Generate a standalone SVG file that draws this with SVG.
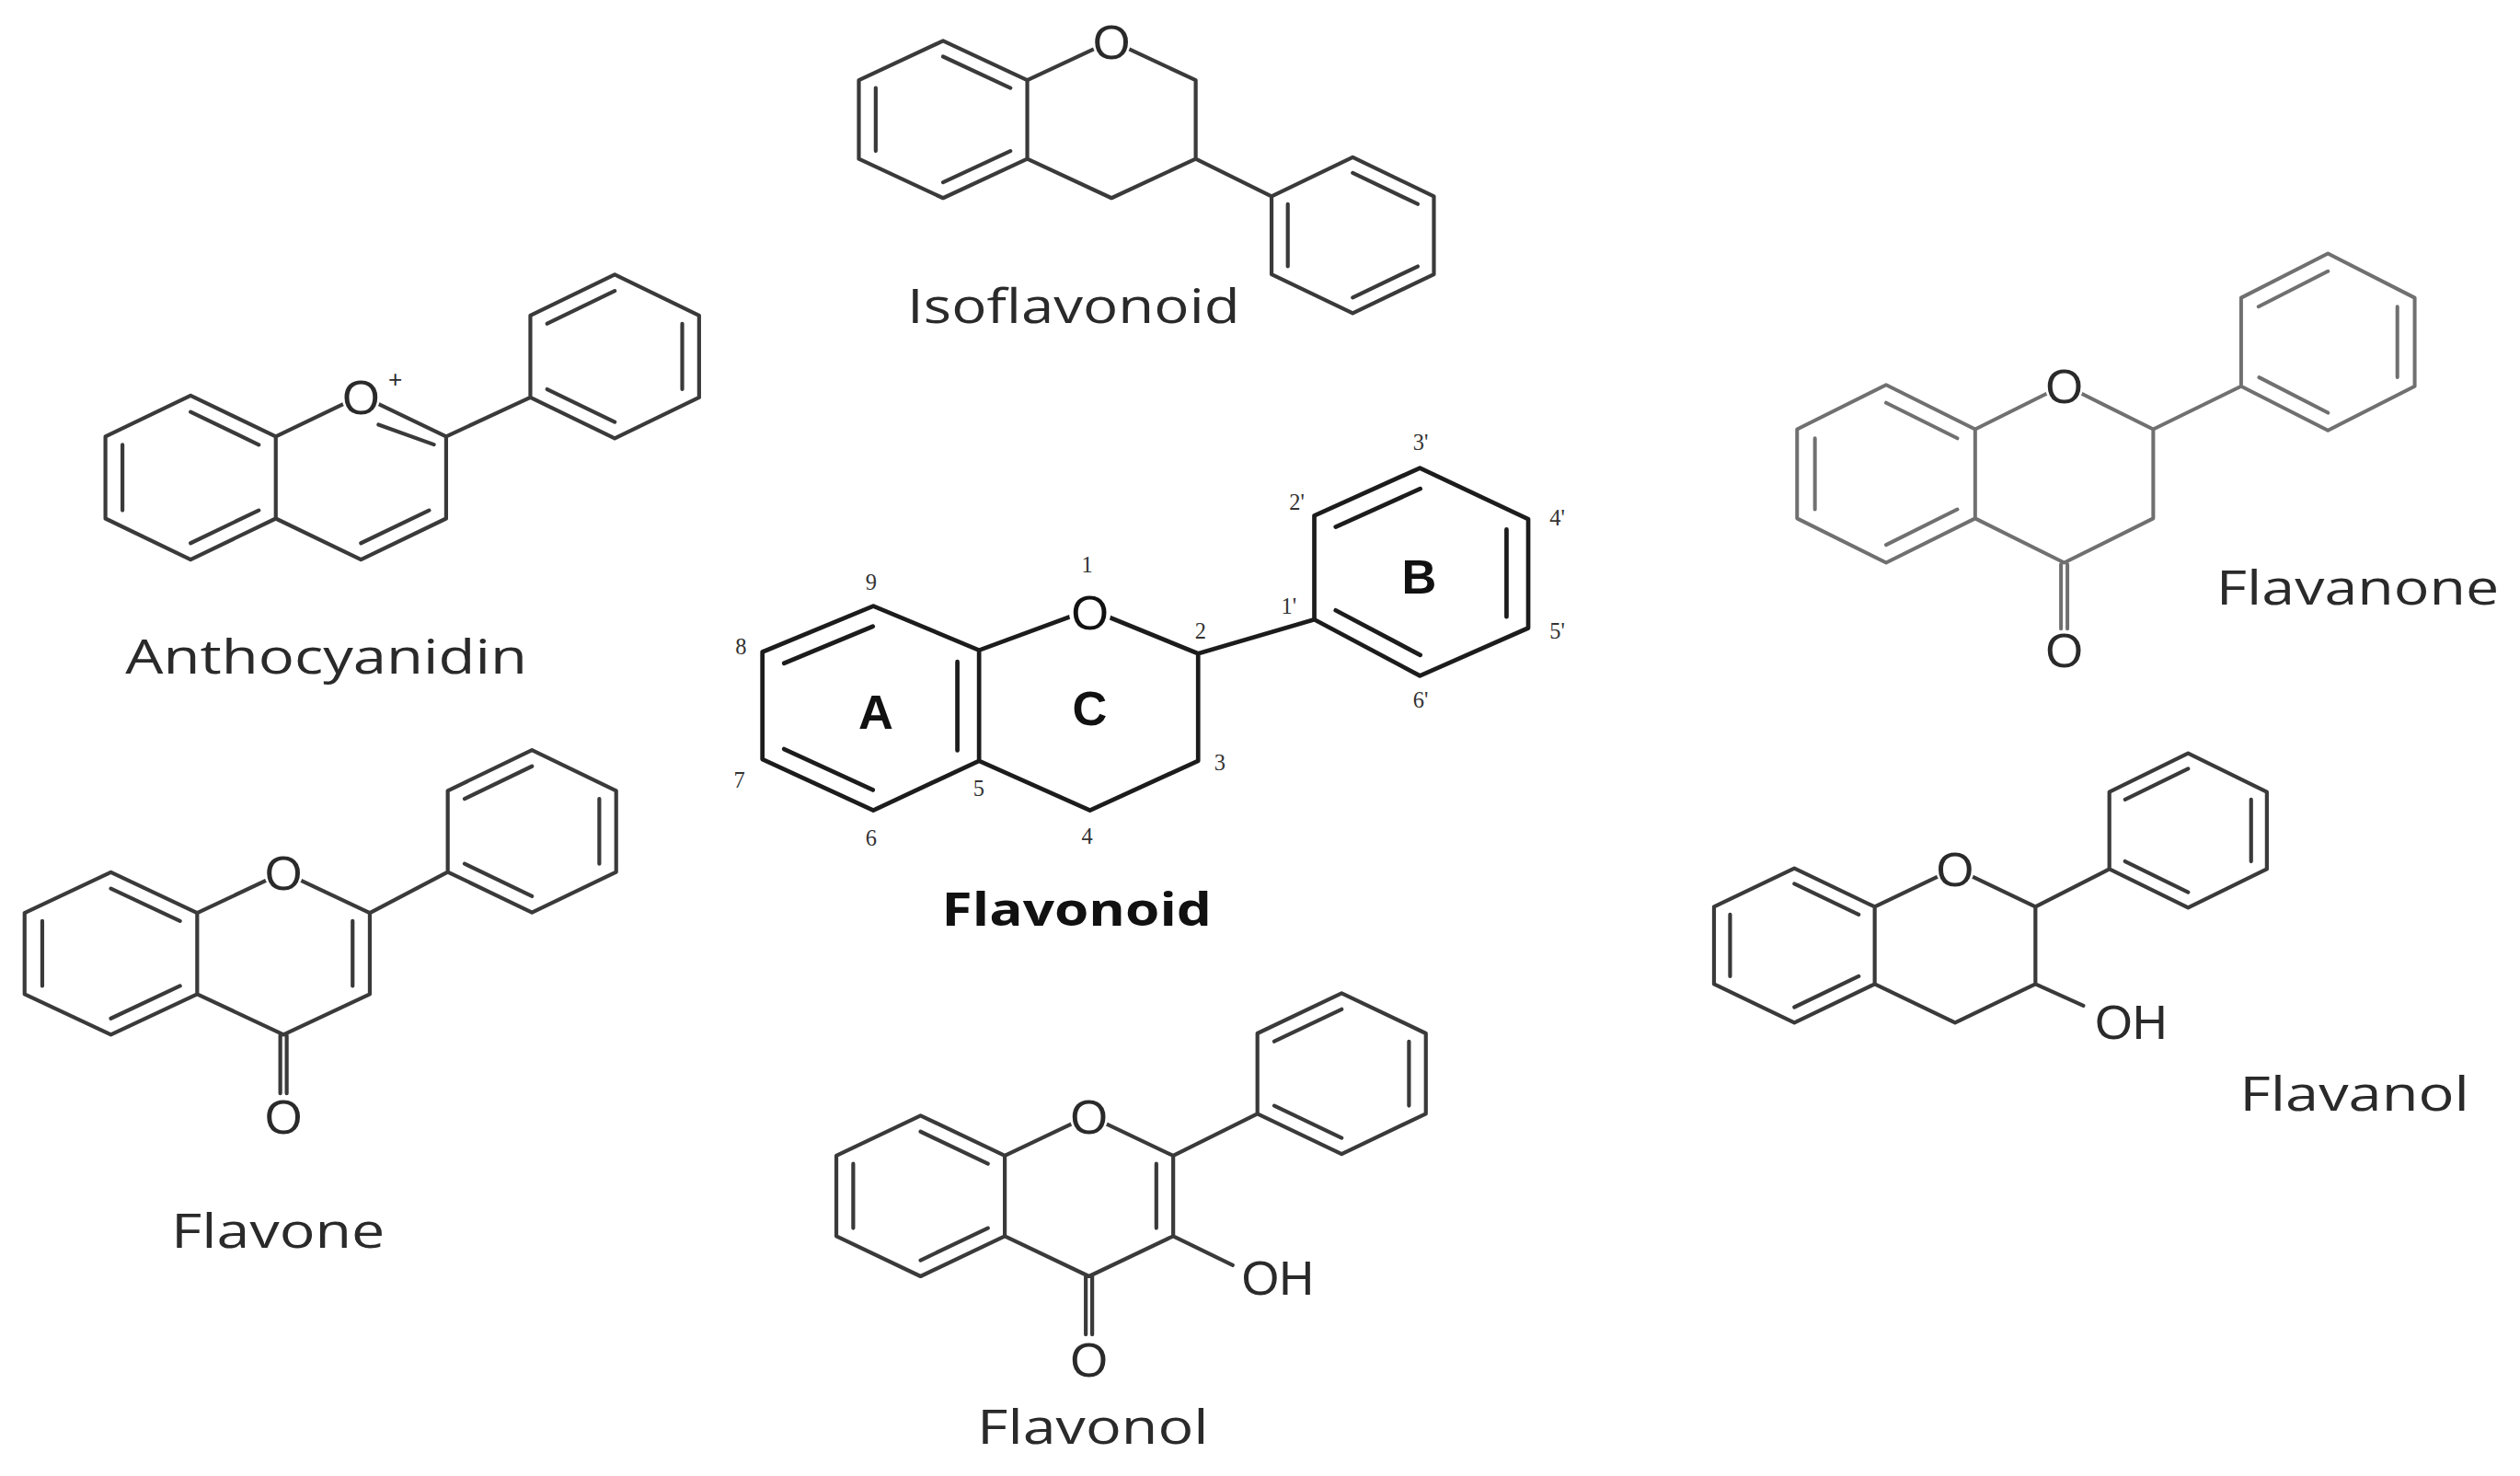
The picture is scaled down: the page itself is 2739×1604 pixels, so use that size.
<svg xmlns="http://www.w3.org/2000/svg" width="2739" height="1604" viewBox="0 0 2739 1604">
<style>
.b{fill:none;stroke:#3a3a3a;stroke-width:2.4;stroke-linecap:round;stroke-linejoin:round}
.bf{fill:none;stroke:#1c1c1c;stroke-width:2.7;stroke-linecap:round;stroke-linejoin:round}
.bg{fill:none;stroke:#707070;stroke-width:2.3;stroke-linecap:round;stroke-linejoin:round}
.lbl{font-family:"Open Sans","Liberation Sans",sans-serif;font-size:29px;fill:#2a2a2a;text-anchor:middle}
.at{font-family:"Liberation Sans",Arial,sans-serif;font-size:30px;fill:#2a2a2a;text-anchor:middle}
.num{font-family:"Liberation Serif","Times New Roman",serif;font-size:14px;fill:#333;text-anchor:middle}
.rl{font-family:"Liberation Sans",Arial,sans-serif;font-size:30px;font-weight:bold;fill:#111;text-anchor:middle}
.w{fill:#fff;stroke:none}
</style>
<rect width="2739" height="1604" fill="#fff"/>
<g transform="scale(1.7468,1.7473)">
<g id="anthocyanidin">
<path class="b" d="M118.6,246 L171.6,271.5 L171.6,322.5 L118.6,348 L65.6,322.5 L65.6,271.5 Z M171.6,271.5 L224.6,246 L277.6,271.5 L277.6,322.5 L224.6,348 L171.6,322.5 M277.6,271.5 L330,247.2 M382.5,170.7 L435,196.2 L435,247.2 L382.5,272.7 L330,247.2 L330,196.2 Z"/>
<path class="b" d="M118.6,256.2 L161,276.6 M76.2,276.6 L76.2,317.4 M118.6,337.8 L161,317.4 M235.5,264.1 L270,276.5 M224.6,337.8 L267,317.4 M340.5,201.3 L382.5,180.9 M424.5,201.3 L424.5,242.1 M340.5,242.1 L382.5,262.5"/>
<circle class="w" cx="224.6" cy="247" r="12"/>
<text class="at" x="224.6" y="257.7">O</text>
<text x="246" y="241" style="font-family:'Liberation Sans',sans-serif;font-size:15px;fill:#2a2a2a;text-anchor:middle">+</text>
<text class="lbl" x="203" y="419" textLength="250" lengthAdjust="spacingAndGlyphs">Anthocyanidin</text>
</g>
<g id="isoflavonoid">
<path class="b" d="M586.8,25.4 L639.2,49.9 L639.2,98.8 L586.8,123.2 L534.4,98.8 L534.4,49.9 Z M639.2,49.9 L691.6,25.4 L744,49.9 L744,98.8 L691.6,123.2 L639.2,98.8 M744,98.8 L791.2,122.1 M841.7,97.8 L892.2,122.1 L892.2,170.6 L841.7,194.8 L791.2,170.6 L791.2,122.1 Z"/>
<path class="b" d="M586.8,35.2 L628.7,54.7 M544.9,54.7 L544.9,93.9 M586.8,113.4 L628.7,93.9 M841.7,107.5 L882.1,126.9 M882.1,165.7 L841.7,185.1 M801.3,165.7 L801.3,126.9"/>
<circle class="w" cx="691.6" cy="26" r="12"/>
<text class="at" x="691.6" y="36.5">O</text>
<text class="lbl" x="668" y="201" textLength="207" lengthAdjust="spacingAndGlyphs">Isoflavonoid</text>
</g>
<g id="flavonoid">
<path class="bf" d="M543.4,376.9 L609.2,404.4 L609.2,473.2 L543.4,504 L474.4,472.2 L474.4,405.5 Z M609.2,404.4 L678.2,379 L745.5,406.5 L745.5,473.2 L678.2,504 L609.2,473.2 M745.5,406.5 L817.8,385.3 M817.8,385.3 L817.8,320.7 L883.5,291.1 L950.9,322.8 L950.9,390.6 L883.5,420.3 Z"/>
<path class="bf" d="M543.1,389.6 L487.9,412.5 M487.9,465.9 L543.1,491.3 M595.7,466.7 L595.7,411.6 M831.1,327.7 L883.7,304 M937.4,329.3 L937.4,383.6 M883.7,407.4 L831.1,379.6"/>
<circle class="w" cx="678.2" cy="381" r="13"/>
<text class="at" x="678.2" y="391.5" style="fill:#111">O</text>
<text class="rl" x="545" y="453">A</text>
<text class="rl" x="678" y="451">C</text>
<text class="rl" x="883" y="369">B</text>
<text class="num" x="676.5" y="356">1</text>
<text class="num" x="542" y="367">9</text>
<text class="num" x="461" y="407">8</text>
<text class="num" x="460" y="490">7</text>
<text class="num" x="542" y="526">6</text>
<text class="num" x="609" y="495">5</text>
<text class="num" x="676.5" y="525">4</text>
<text class="num" x="759" y="479">3</text>
<text class="num" x="747" y="397">2</text>
<text class="num" x="802" y="382">1'</text>
<text class="num" x="807" y="317">2'</text>
<text class="num" x="884" y="280">3'</text>
<text class="num" x="969" y="327">4'</text>
<text class="num" x="969" y="397">5'</text>
<text class="num" x="884" y="440">6'</text>
<text class="lbl" x="670" y="576" style="font-weight:bold;fill:#111" textLength="168" lengthAdjust="spacingAndGlyphs">Flavonoid</text>
</g>
<g id="flavanone">
<path class="bg" d="M1173.6,239.4 L1229,267 L1229,322.4 L1173.6,350 L1118.2,322.4 L1118.2,267 Z M1229,267 L1284.4,239.4 L1339.8,267 L1339.8,322.4 L1284.4,350 L1229,322.4 M1339.8,267 L1394.5,240.2 M1448.5,157.7 L1502.5,185.2 L1502.5,240.2 L1448.5,267.7 L1394.5,240.2 L1394.5,185.2 Z M1282.4,351 L1282.4,391 M1286.4,351 L1286.4,391"/>
<path class="bg" d="M1173.6,250.5 L1217.9,272.6 M1129.3,272.6 L1129.3,316.8 M1173.6,338.9 L1217.9,316.8 M1405.3,190.7 L1448.5,168.7 M1491.7,190.7 L1491.7,234.7 M1405.7,234.7 L1448.5,256.7"/>
<circle class="w" cx="1284.4" cy="240" r="12"/>
<text class="at" x="1284.4" y="250.5">O</text>
<text class="at" x="1284.4" y="415">O</text>
<text class="lbl" x="1467" y="376" textLength="176" lengthAdjust="spacingAndGlyphs">Flavanone</text>
</g>
<g id="flavone">
<path class="b" d="M69,542.5 L122.7,567.8 L122.7,618.3 L69,643.5 L15.3,618.3 L15.3,567.8 Z M122.7,567.8 L176.4,542.5 L230.1,567.8 L230.1,618.3 L176.4,643.5 L122.7,618.3 M230.1,567.8 L278.6,542.3 M331,466.5 L383.4,491.8 L383.4,542.3 L331,567.5 L278.6,542.3 L278.6,491.8 Z M174.4,644 L174.4,680 M178.4,644 L178.4,680"/>
<path class="b" d="M69,552.6 L112,572.8 M26.3,572.8 L26.3,613.2 M69,633.4 L112,613.2 M219.4,572.8 L219.4,613.2 M289.1,496.8 L331,476.6 M372.9,496.8 L372.9,537.2 M289.1,537.2 L331,557.4"/>
<circle class="w" cx="176.4" cy="543" r="12"/>
<text class="at" x="176.4" y="553.5">O</text>
<text class="at" x="176.4" y="705">O</text>
<text class="lbl" x="173" y="776" textLength="133" lengthAdjust="spacingAndGlyphs">Flavone</text>
</g>
<g id="flavonol">
<path class="b" d="M572.8,693.8 L625.2,718.8 L625.2,768.8 L572.8,793.8 L520.4,768.8 L520.4,718.8 Z M625.2,718.8 L677.6,693.8 L730,718.8 L730,768.8 L677.6,793.8 L625.2,768.8 M730,718.8 L782.4,692.7 M834.8,617.7 L887.2,642.7 L887.2,692.7 L834.8,717.7 L782.4,692.7 L782.4,642.7 Z M730,768.8 L767,786.9 M675.6,794 L675.6,830 M679.6,794 L679.6,830"/>
<path class="b" d="M572.8,703.8 L614.7,723.8 M530.9,723.8 L530.9,763.8 M572.8,783.8 L614.7,763.8 M719.5,723.8 L719.5,763.8 M792.9,647.7 L834.8,627.7 M876.7,647.7 L876.7,687.7 M792.9,687.7 L834.8,707.7"/>
<circle class="w" cx="677.6" cy="694.5" r="12"/>
<text class="at" x="677.6" y="705">O</text>
<text class="at" x="677.6" y="856">O</text>
<text class="at" x="795" y="805">OH</text>
<text class="lbl" x="680" y="898" textLength="144" lengthAdjust="spacingAndGlyphs">Flavonol</text>
</g>
<g id="flavanol">
<path class="b" d="M1116.5,540 L1166.5,564 L1166.5,612 L1116.5,636 L1066.5,612 L1066.5,564 Z M1166.5,564 L1216.5,540 L1266.5,564 L1266.5,612 L1216.5,636 L1166.5,612 M1266.5,564 L1312.5,540.5 M1361.5,468.5 L1410.5,492.5 L1410.5,540.5 L1361.5,564.5 L1312.5,540.5 L1312.5,492.5 Z M1266.5,612 L1296.3,625.5"/>
<path class="b" d="M1116.5,549.6 L1156.5,568.8 M1076.5,568.8 L1076.5,607.2 M1116.5,626.4 L1156.5,607.2 M1322.3,497.3 L1361.5,478.1 M1400.7,497.3 L1400.7,535.7 M1322.3,535.7 L1361.5,554.9"/>
<circle class="w" cx="1216.5" cy="540.5" r="12"/>
<text class="at" x="1216.5" y="551">O</text>
<text class="at" x="1326" y="646">OH</text>
<text class="lbl" x="1465" y="691" textLength="143" lengthAdjust="spacingAndGlyphs">Flavanol</text>
</g>
<g id="connectors"/>
</g>
</svg>
